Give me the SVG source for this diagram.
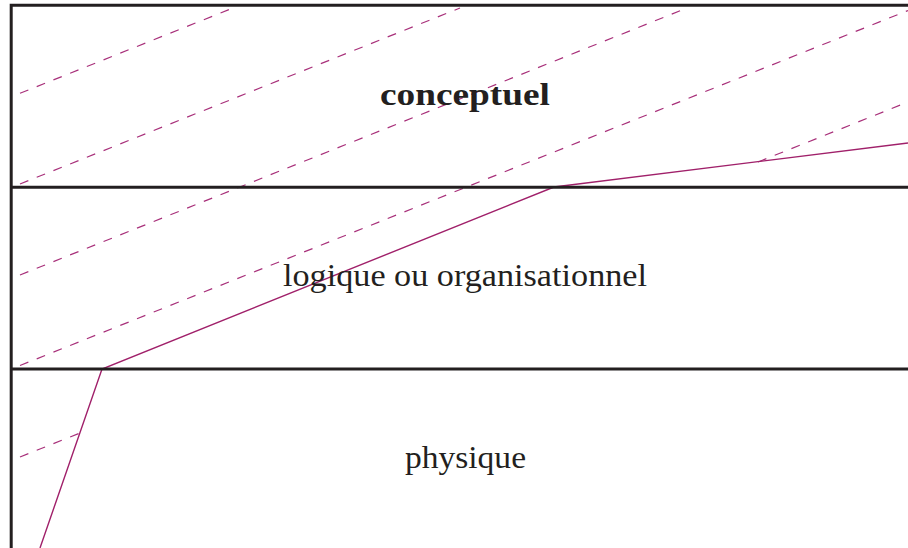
<svg xmlns="http://www.w3.org/2000/svg" width="908" height="548" viewBox="0 0 908 548">
  <style>
    .frame { stroke: #231f20; stroke-width: 3; fill: none; stroke-linecap: butt; }
    .hatch { stroke: #a8307a; stroke-width: 1.2; fill: none; stroke-dasharray: 9 9; }
    .solid { stroke: #a0206a; stroke-width: 1.4; fill: none; stroke-linejoin: miter; }
    .lbl { font-family: "Liberation Serif", "Times New Roman", serif; font-size: 31px; fill: #231f20; text-anchor: middle; }
    .bold { font-weight: bold; }
  </style>
  <rect width="908" height="548" fill="#ffffff"/>
  <g id="connectors">
    <line class="hatch" x1="20" y1="93.3" x2="233" y2="8"/>
    <line class="hatch" x1="20" y1="184" x2="460" y2="8"/>
    <line class="hatch" x1="20" y1="275" x2="687" y2="8"/>
    <line class="hatch" x1="20" y1="365.5" x2="908" y2="10.5"/>
    <line class="hatch" x1="20" y1="457" x2="80.5" y2="432.8"/>
    <line class="hatch" x1="758" y1="162" x2="908" y2="102"/>
    <polyline class="solid" points="40,548 102,369 554,187 908,143"/>
  </g>
  <g id="frame">
    <polyline class="frame" points="11.2,548 11.2,5.3 908,5.3"/>
    <line class="frame" x1="11.2" y1="187.3" x2="908" y2="187.3"/>
    <line class="frame" x1="11.2" y1="369" x2="908" y2="369"/>
  </g>
  <g id="conceptuel">
    <text class="lbl bold" x="465" y="105" textLength="170" lengthAdjust="spacingAndGlyphs">conceptuel</text>
  </g>
  <g id="logique">
    <text class="lbl" x="465" y="286" textLength="364" lengthAdjust="spacingAndGlyphs">logique ou organisationnel</text>
  </g>
  <g id="physique">
    <text class="lbl" x="465.5" y="467.5" textLength="121" lengthAdjust="spacingAndGlyphs">physique</text>
  </g>
</svg>
